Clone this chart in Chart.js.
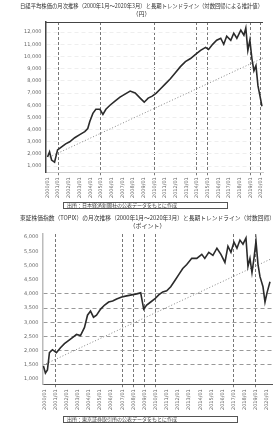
<!DOCTYPE html>
<html>
<head>
<meta charset="utf-8">
<script src="https://cdn.jsdelivr.net/npm/chart.js@4.4.0/dist/chart.umd.min.js"></script>
<style>
  html, body { margin: 0; padding: 0; background: #fff; }
  canvas { display: block; }
</style>
</head>
<body>
<canvas id="top-chart" width="275" height="212"></canvas>
<canvas id="bottom-chart" width="275" height="212"></canvas>
<script>
// State
var title1 = ["日経平均株価の月次推移（2000年1月〜2020年3月）と長期トレンドライン（対数回帰による推計値）", "（円）"];
var title2 = ["東証株価指数（TOPIX）の月次推移（2000年1月〜2020年3月）と長期トレンドライン（対数回帰）", "（ポイント）"];
var note1 = "出所：日本経済新聞社の公表データをもとに作成";
var note2 = "出所：東京証券取引所の公表データをもとに作成";

var years = [2000, 2001, 2002, 2003, 2004, 2005, 2006, 2007, 2008, 2009, 2010,
  2011, 2012, 2013, 2014, 2015, 2016, 2017, 2018, 2019, 2020];
var yearLabels = years.map(function (y) { return y + "/01"; });

var yTicks1 = [1000, 2000, 3000, 4000, 5000, 6000, 7000, 8000, 9000, 10000, 11000, 12000];
var yTicks2 = [1000, 1500, 2000, 2500, 3000, 3500, 4000, 4500, 5000, 5500, 6000];
var marked1 = [2001, 2005, 2010, 2014, 2015, 2019, 2020];
var marked2 = [2001, 2007, 2008, 2009, 2010, 2017, 2019];

var dates1 = [2000.0, 2000.19, 2000.38, 2000.66, 2000.94, 2001.32, 2001.7, 2002.08, 2002.55, 2003.02,
  2003.49, 2003.77, 2003.96, 2004.25, 2004.53, 2004.91, 2005.19, 2005.47, 2005.85, 2006.32,
  2006.79, 2007.26, 2007.74, 2008.21, 2008.68, 2009.06, 2009.43, 2009.81, 2010.19, 2010.57,
  2011.04, 2011.51, 2011.98, 2012.45, 2012.92, 2013.4, 2013.87, 2014.34, 2014.81, 2015.09,
  2015.47, 2015.85, 2016.23, 2016.51, 2016.79, 2017.17, 2017.45, 2017.74, 2018.11, 2018.4,
  2018.58, 2018.77, 2018.96, 2019.15, 2019.34, 2019.53, 2019.72, 2019.91, 2020.09];
var prices1 = [1750, 2167, 1500, 1333, 2333, 2583, 2833, 3000, 3333, 3583,
  3833, 4083, 4667, 5333, 5667, 5667, 5250, 5667, 6000, 6333,
  6667, 6917, 7167, 7000, 6583, 6250, 6583, 6750, 7000, 7333,
  7750, 8167, 8667, 9167, 9583, 9833, 10167, 10500, 10750, 10583,
  11000, 11333, 11500, 11000, 11667, 11333, 11917, 11500, 12167, 11750,
  12333, 10500, 11333, 9833, 8833, 9250, 7583, 6750, 5917];
var trendDates1 = [2000.19, 2020.19];
var trend1 = [1750, 9877];

var dates2 = [1999.91, 2000.09, 2000.27, 2000.45, 2000.72, 2001.08, 2001.44, 2001.8, 2002.16, 2002.52,
  2002.88, 2003.24, 2003.6, 2003.87, 2004.14, 2004.41, 2004.68, 2005.05, 2005.41, 2005.77,
  2006.13, 2006.49, 2006.94, 2007.39, 2007.84, 2008.29, 2008.65, 2008.92, 2009.19, 2009.55,
  2009.91, 2010.27, 2010.63, 2010.99, 2011.35, 2011.71, 2012.07, 2012.43, 2012.79, 2013.24,
  2013.69, 2014.14, 2014.41, 2014.77, 2015.14, 2015.5, 2015.86, 2016.22, 2016.49, 2016.76,
  2017.03, 2017.3, 2017.57, 2017.84, 2018.11, 2018.29, 2018.47, 2018.65, 2018.83, 2019.01,
  2019.19, 2019.37, 2019.64, 2019.82, 2020.0, 2020.27];
var prices2 = [1464, 1214, 1321, 1929, 2036, 1929, 2107, 2250, 2357, 2464,
  2571, 2536, 2821, 3250, 3393, 3179, 3250, 3464, 3607, 3714,
  3750, 3821, 3893, 3929, 3964, 4000, 4036, 3464, 3607, 3714,
  3821, 3964, 4071, 4107, 4250, 4464, 4679, 4893, 5036, 5250,
  5250, 5393, 5250, 5464, 5357, 5607, 5393, 5107, 5679, 5464,
  5821, 5607, 5893, 5750, 5964, 4964, 5250, 4750, 5250, 5857,
  5036, 4607, 4250, 3714, 4036, 4429];
var trendDates2 = [1999.91, 2020.27];
var trend2 = [1500, 5214];

function toPoints(xs, ys) {
  return xs.map(function (x, i) { return { x: x, y: ys[i] }; });
}

// boxed source note under the axis labels, plus optional frame line on top
var notePlugin = {
  id: "noteBox",
  afterDraw: function (chart, args, opts) {
    var ctx = chart.ctx;
    var a = chart.chartArea;
    ctx.save();
    if (opts.topLine) {
      ctx.strokeStyle = "#444";
      ctx.lineWidth = 1;
      ctx.beginPath();
      ctx.moveTo(a.left, Math.round(a.top) + 0.5);
      ctx.lineTo(a.right, Math.round(a.top) + 0.5);
      ctx.stroke();
    }
    ctx.strokeStyle = "#555";
    ctx.lineWidth = 1;
    ctx.strokeRect(opts.x + 0.5, opts.y + 0.5, opts.w, 6);
    ctx.fillStyle = "#444";
    ctx.font = "5px 'Noto Sans CJK JP'";
    ctx.textBaseline = "middle";
    ctx.fillText(opts.text, opts.x + 4, opts.y + 3.5);
    ctx.restore();
  },
};

function makeChart(id, cfg) {
  var ctx = document.getElementById(id).getContext("2d");
  return new Chart(ctx, {
    type: "line",
    data: {
      datasets: [
        {
          label: "終値",
          data: toPoints(cfg.dates, cfg.prices),
          borderColor: "#2b2b2b",
          borderWidth: 1.6,
          pointRadius: 0,
          tension: 0,
        },
        {
          label: "トレンド",
          data: toPoints(cfg.trendDates, cfg.trend),
          borderColor: "#888",
          borderWidth: 1,
          borderDash: [1, 2],
          pointRadius: 0,
        },
      ],
    },
    plugins: [notePlugin],
    options: {
      responsive: false,
      devicePixelRatio: 1,
      animation: false,
      layout: { padding: cfg.padding },
      plugins: {
        legend: { display: false },
        tooltip: { enabled: false },
        title: {
          display: true,
          text: cfg.title,
          color: "#333",
          font: { family: "'Noto Sans CJK JP'", size: 6, weight: "normal", lineHeight: 1.25 },
          padding: { top: 0, bottom: 5 },
        },
        noteBox: cfg.note,
      },
      scales: {
        x: {
          type: "linear",
          min: cfg.xMin,
          max: cfg.xMax,
          afterBuildTicks: function (s) {
            s.ticks = years.map(function (v) { return { value: v }; });
          },
          ticks: {
            minRotation: 90,
            maxRotation: 90,
            autoSkip: false,
            color: "#666",
            padding: 2,
            font: { family: "'DejaVu Sans'", size: 5 },
            callback: function (v) { return yearLabels[years.indexOf(v)]; },
          },
          grid: {
            drawTicks: true,
            tickLength: 3,
            color: function (c) {
              return c.tick && cfg.marked.indexOf(c.tick.value) >= 0 ? "#777" : "rgba(0,0,0,0)";
            },
            lineWidth: 1,
          },
          border: { color: cfg.xBorder, width: 1, dash: [3, 2] },
        },
        y: {
          min: cfg.yMin,
          max: cfg.yMax,
          afterBuildTicks: function (s) {
            s.ticks = cfg.yTicks.map(function (v) { return { value: v }; });
          },
          ticks: {
            color: "#666",
            padding: 4,
            font: { family: "'DejaVu Sans'", size: 5 },
            callback: function (v) { return v.toLocaleString("en-US"); },
          },
          grid: {
            color: cfg.yGrid,
            drawTicks: false,
            lineWidth: 1,
          },
          border: { color: cfg.yBorder, width: 1.5, dash: [4, 3] },
        },
      },
    },
  });
}

makeChart("top-chart", {
  title: title1,
  dates: dates1,
  prices: prices1,
  trendDates: trendDates1,
  trend: trend1,
  xMin: 1999.81,
  xMax: 2020.19,
  yMin: 500,
  yMax: 12833,
  yTicks: yTicks1,
  marked: marked1,
  xBorder: "#ccc",
  yBorder: "#444",
  yGrid: function () { return "#eeeeee"; },
  padding: { top: 2, right: 12, left: 20, bottom: 12 },
  note: { x: 63, y: 202, w: 164, text: note1, topLine: true },
});

makeChart("bottom-chart", {
  title: title2,
  dates: dates2,
  prices: prices2,
  trendDates: trendDates2,
  trend: trend2,
  xMin: 1999.81,
  xMax: 2020.45,
  yMin: 821,
  yMax: 6107,
  yTicks: yTicks2,
  marked: marked2,
  xBorder: "#555",
  yBorder: "#bbb",
  yGrid: function (c) {
    return c.tick && c.tick.value > 1000 && c.tick.value <= 4000 ? "#999" : "rgba(0,0,0,0)";
  },
  padding: { top: 2, right: 0, left: 20, bottom: 12 },
  note: { x: 63, y: 204, w: 174, text: note2, topLine: false },
});
</script>
</body>
</html>
